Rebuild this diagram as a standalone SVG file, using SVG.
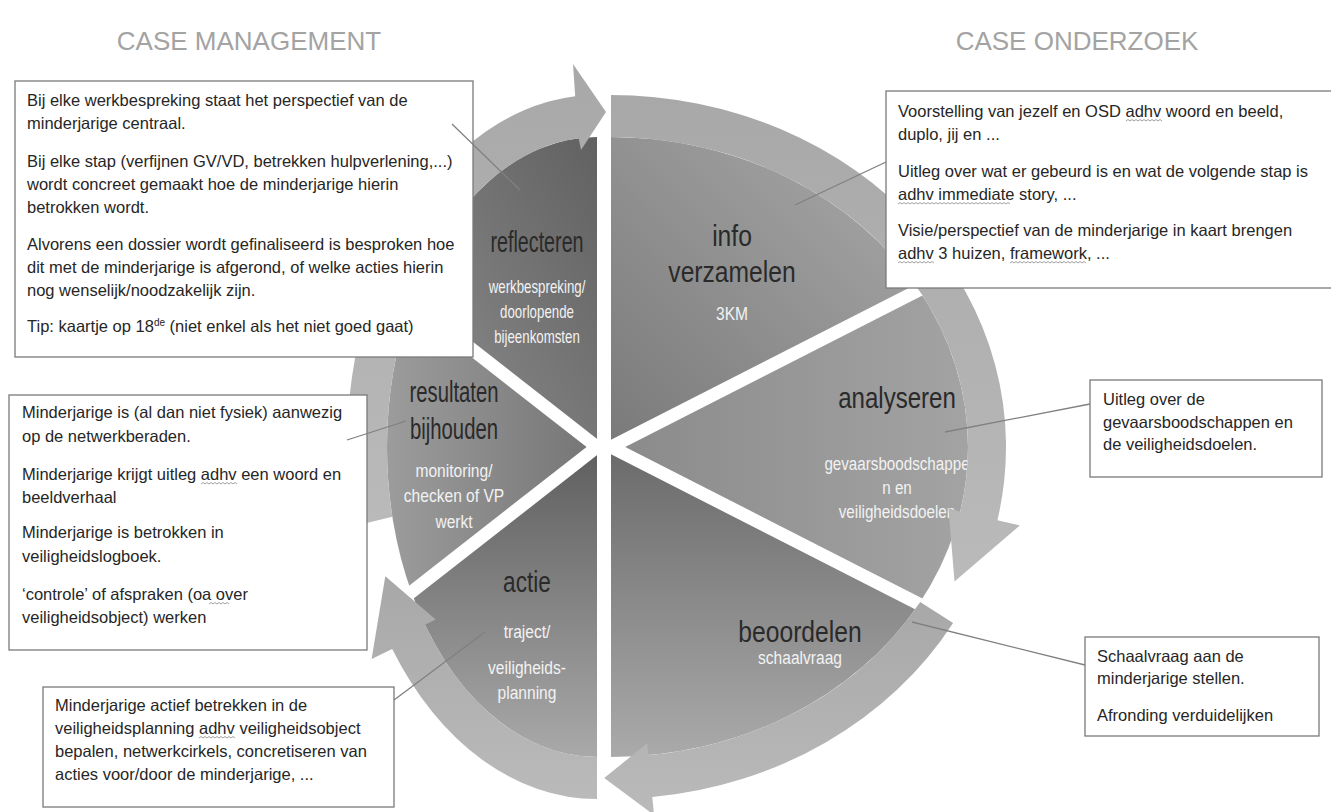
<svg xmlns="http://www.w3.org/2000/svg" width="1331" height="812" viewBox="0 0 1331 812">
<defs>
<linearGradient id="gRefl" x1="1" y1="0" x2="0" y2="1"><stop offset="0" stop-color="#616161"/><stop offset="1" stop-color="#8e8e8e"/></linearGradient>
<linearGradient id="gRes" x1="1" y1="0.5" x2="0" y2="0.5"><stop offset="0" stop-color="#757575"/><stop offset="1" stop-color="#9c9c9c"/></linearGradient>
<linearGradient id="gAct" x1="0" y1="0" x2="0" y2="1"><stop offset="0" stop-color="#5e5e5e"/><stop offset="1" stop-color="#a9a9a9"/></linearGradient>
<linearGradient id="gInfo" x1="1" y1="0" x2="0" y2="1"><stop offset="0" stop-color="#a9a9a9"/><stop offset="1" stop-color="#7a7a7a"/></linearGradient>
<linearGradient id="gAna" x1="0" y1="0" x2="1" y2="0"><stop offset="0" stop-color="#8a8a8a"/><stop offset="1" stop-color="#a3a3a3"/></linearGradient>
<linearGradient id="gBeo" x1="0" y1="0" x2="0" y2="1"><stop offset="0" stop-color="#6a6a6a"/><stop offset="1" stop-color="#aaaaaa"/></linearGradient>
<linearGradient id="gRing" x1="0" y1="0" x2="0" y2="1"><stop offset="0" stop-color="#a8a8a8"/><stop offset="1" stop-color="#bababa"/></linearGradient>
</defs>
<style>
.title{font-family:"Liberation Sans",Arial,sans-serif;font-size:26px;fill:#a3a3a3;text-anchor:middle}
.lbl{font-family:"Liberation Sans",Arial,sans-serif;font-size:29px;fill:#2a2a2a;text-anchor:middle}
.sub{font-family:"Liberation Sans",Arial,sans-serif;font-size:19px;fill:#f2f2f2;text-anchor:middle}
.box{fill:#fff;stroke:#7a7a7a;stroke-width:1.3}
.note{font-family:"Liberation Sans",Arial,sans-serif;font-size:16.5px;fill:#262626}
.gap{stroke:#fff;stroke-width:13;fill:none}
.ring{fill:url(#gRing)}
.conn{stroke:#808080;stroke-width:1.3;fill:none}
.sq{stroke:#959595;stroke-width:0.9;fill:none}
</style>
<rect width="1331" height="812" fill="#fff"/>
<g id="titles">
<text class="title" x="249" y="50">CASE MANAGEMENT</text>
<text class="title" x="1077" y="50">CASE ONDERZOEK</text>
</g>
<g id="node-reflecteren">
<path d="M597,447 L597,137 A210,310 0 0 0 411.4,301.9 Z" fill="url(#gRefl)"/>
<text class="lbl" transform="translate(537,252) scale(0.68,1)">reflecteren</text>
<text class="sub" transform="translate(537,293) scale(0.7,1)">werkbespreking/</text>
<text class="sub" transform="translate(537,318) scale(0.7,1)">doorlopende</text>
<text class="sub" transform="translate(537,343) scale(0.7,1)">bijeenkomsten</text>
</g>
<g id="node-resultaten">
<path d="M597,447 L411.4,301.9 A210,310 0 0 0 411.4,592.1 Z" fill="url(#gRes)"/>
<text class="lbl" transform="translate(454,402) scale(0.7,1)">resultaten</text>
<text class="lbl" transform="translate(454,439) scale(0.7,1)">bijhouden</text>
<text class="sub" transform="translate(454,477) scale(0.82,1)">monitoring/</text>
<text class="sub" transform="translate(454,502) scale(0.82,1)">checken of VP</text>
<text class="sub" transform="translate(454,528) scale(0.82,1)">werkt</text>
</g>
<g id="node-actie">
<path d="M597,447 L411.4,592.1 A210,310 0 0 0 597,757 Z" fill="url(#gAct)"/>
<text class="lbl" transform="translate(527,592) scale(0.78,1)">actie</text>
<text class="sub" transform="translate(527,638) scale(0.82,1)">traject/</text>
<text class="sub" transform="translate(527,674) scale(0.82,1)">veiligheids-</text>
<text class="sub" transform="translate(527,699) scale(0.82,1)">planning</text>
</g>
<g id="node-info">
<path d="M611,447 L611,137 A357,310 0 0 1 918.9,290.1 Z" fill="url(#gInfo)"/>
<text class="lbl" transform="translate(732,246) scale(0.85,1)">info</text>
<text class="lbl" transform="translate(732,282) scale(0.85,1)">verzamelen</text>
<text class="sub" transform="translate(732,320) scale(0.82,1)">3KM</text>
</g>
<g id="node-analyseren">
<path d="M611,447 L918.9,290.1 A357,310 0 0 1 918.9,603.9 Z" fill="url(#gAna)"/>
<text class="lbl" transform="translate(897,408) scale(0.83,1)">analyseren</text>
<text class="sub" transform="translate(897,470) scale(0.8,1)">gevaarsboodschappe</text>
<text class="sub" transform="translate(897,494) scale(0.8,1)">n en</text>
<text class="sub" transform="translate(897,518) scale(0.8,1)">veiligheidsdoelen</text>
</g>
<g id="node-beoordelen">
<path d="M611,447 L918.9,603.9 A357,310 0 0 1 611,757 Z" fill="url(#gBeo)"/>
<text class="lbl" transform="translate(800,642) scale(0.85,1)">beoordelen</text>
<text class="sub" transform="translate(800,664) scale(0.82,1)">schaalvraag</text>
</g>
<g id="gaps">
<line class="gap" x1="597" y1="447" x2="396.8" y2="290.5"/>
<line class="gap" x1="597" y1="447" x2="396.8" y2="603.5"/>
<line class="gap" x1="611" y1="447" x2="936.2" y2="281.3"/>
<line class="gap" x1="611" y1="447" x2="936.2" y2="612.7"/>
</g>
<g id="cycle-arrows">
<path class="ring" d="M353.4,526.2 A250,352 0 0 1 575.2,96.3 L573,64 L606,112 L581,150 L578.7,138.2 A210,310 0 0 0 392.4,516.8 Z"/>
<path class="ring" d="M611,95 A395,352 0 0 1 997.4,520.2 L1019.8,525.5 L954.5,581.6 L948.5,508.6 L960.2,511.4 A357,310 0 0 0 611,137 Z"/>
<path class="ring" d="M953.1,623 A395,352 0 0 1 652.3,797.1 L654,815 L604.2,778 L647.2,743.3 L648.3,755.3 A357,310 0 0 0 920.2,602 Z"/>
<path class="ring" d="M597,799 A250,352 0 0 1 392.2,648.9 L371.6,659.1 L385.3,576.3 L435.7,619.5 L425,624.8 A210,310 0 0 0 597,757 Z"/>
</g>
<g id="note-reflecteren">
<rect class="box" x="15" y="81" width="458" height="276"/>
<text class="note" x="27" y="106">Bij elke werkbespreking staat het perspectief van de</text>
<text class="note" x="27" y="129">minderjarige centraal.</text>
<text class="note" x="27" y="167">Bij elke stap (verfijnen GV/VD, betrekken hulpverlening,...)</text>
<text class="note" x="27" y="190">wordt concreet gemaakt hoe de minderjarige hierin</text>
<text class="note" x="27" y="213">betrokken wordt.</text>
<text class="note" x="27" y="250">Alvorens een dossier wordt gefinaliseerd is besproken hoe</text>
<text class="note" x="27" y="273">dit met de minderjarige is afgerond, of welke acties hierin</text>
<text class="note" x="27" y="296">nog wenselijk/noodzakelijk zijn.</text>
<text class="note" x="27" y="332">Tip: kaartje op 18<tspan font-size="10" dy="-6">de</tspan><tspan dy="6"> (niet enkel als het niet goed gaat)</tspan></text>
</g>
<g id="note-info">
<rect class="box" x="886" y="91" width="460" height="197"/>
<text class="note" x="898" y="117">Voorstelling van jezelf en OSD adhv woord en beeld,</text>
<text class="note" x="898" y="140">duplo, jij en ...</text>
<text class="note" x="898" y="177">Uitleg over wat er gebeurd is en wat de volgende stap is</text>
<text class="note" x="898" y="200">adhv immediate story, ...</text>
<text class="note" x="898" y="236">Visie/perspectief van de minderjarige in kaart brengen</text>
<text class="note" x="898" y="259">adhv 3 huizen, framework, ...</text>
<path class="sq" d="M1126,121 l2,-1.5 2,1.5 2,-1.5 2,1.5 2,-1.5 2,1.5 2,-1.5 2,1.5 2,-1.5 2,1.5 2,-1.5 2,1.5 2,-1.5 2,1.5 2,-1.5 2,1.5 2,-1.5 2,1.5"/>
<path class="sq" d="M898,204 l2,-1.5 2,1.5 2,-1.5 2,1.5 2,-1.5 2,1.5 2,-1.5 2,1.5 2,-1.5 2,1.5 2,-1.5 2,1.5 2,-1.5 2,1.5 2,-1.5 2,1.5 2,-1.5 2,1.5 2,-1.5 2,1.5 2,-1.5 2,1.5 2,-1.5 2,1.5 2,-1.5 2,1.5 2,-1.5 2,1.5 2,-1.5 2,1.5 2,-1.5 2,1.5 2,-1.5 2,1.5 2,-1.5 2,1.5 2,-1.5 2,1.5 2,-1.5 2,1.5 2,-1.5 2,1.5 2,-1.5 2,1.5 2,-1.5 2,1.5 2,-1.5 2,1.5 2,-1.5 2,1.5 2,-1.5 2,1.5 2,-1.5 2,1.5 2,-1.5 2,1.5"/>
<path class="sq" d="M898,263 l2,-1.5 2,1.5 2,-1.5 2,1.5 2,-1.5 2,1.5 2,-1.5 2,1.5 2,-1.5 2,1.5 2,-1.5 2,1.5 2,-1.5 2,1.5 2,-1.5 2,1.5 2,-1.5 2,1.5"/>
<path class="sq" d="M1010,263 l2,-1.5 2,1.5 2,-1.5 2,1.5 2,-1.5 2,1.5 2,-1.5 2,1.5 2,-1.5 2,1.5 2,-1.5 2,1.5 2,-1.5 2,1.5 2,-1.5 2,1.5 2,-1.5 2,1.5 2,-1.5 2,1.5 2,-1.5 2,1.5 2,-1.5 2,1.5 2,-1.5 2,1.5 2,-1.5 2,1.5 2,-1.5 2,1.5 2,-1.5 2,1.5 2,-1.5 2,1.5 2,-1.5 2,1.5 2,-1.5 2,1.5"/>
</g>
<g id="note-resultaten">
<rect class="box" x="9" y="395" width="358" height="255"/>
<text class="note" x="22" y="418">Minderjarige is (al dan niet fysiek) aanwezig</text>
<text class="note" x="22" y="442">op de netwerkberaden.</text>
<text class="note" x="22" y="480">Minderjarige krijgt uitleg adhv een woord en</text>
<text class="note" x="22" y="503">beeldverhaal</text>
<text class="note" x="22" y="538">Minderjarige is betrokken in</text>
<text class="note" x="22" y="562">veiligheidslogboek.</text>
<text class="note" x="22" y="600">‘controle’ of afspraken (oa over</text>
<text class="note" x="22" y="623">veiligheidsobject) werken</text>
<path class="sq" d="M201,484 l2,-1.5 2,1.5 2,-1.5 2,1.5 2,-1.5 2,1.5 2,-1.5 2,1.5 2,-1.5 2,1.5 2,-1.5 2,1.5 2,-1.5 2,1.5 2,-1.5 2,1.5 2,-1.5 2,1.5"/>
<path class="sq" d="M209,604 l2,-1.5 2,1.5 2,-1.5 2,1.5 2,-1.5 2,1.5 2,-1.5 2,1.5 2,-1.5 2,1.5"/>
</g>
<g id="note-actie">
<rect class="box" x="43" y="687" width="351" height="120"/>
<text class="note" x="55" y="711">Minderjarige actief betrekken in de</text>
<text class="note" x="55" y="734">veiligheidsplanning adhv veiligheidsobject</text>
<text class="note" x="55" y="757">bepalen, netwerkcirkels,  concretiseren van</text>
<text class="note" x="55" y="780">acties voor/door de minderjarige, ...</text>
<path class="sq" d="M199,738 l2,-1.5 2,1.5 2,-1.5 2,1.5 2,-1.5 2,1.5 2,-1.5 2,1.5 2,-1.5 2,1.5 2,-1.5 2,1.5 2,-1.5 2,1.5 2,-1.5 2,1.5 2,-1.5 2,1.5"/>
</g>
<g id="note-analyseren">
<rect class="box" x="1090" y="380" width="232" height="97"/>
<text class="note" x="1103" y="405">Uitleg over de</text>
<text class="note" x="1103" y="428">gevaarsboodschappen en</text>
<text class="note" x="1103" y="450">de veiligheidsdoelen.</text>
</g>
<g id="note-beoordelen">
<rect class="box" x="1085" y="637" width="234" height="99"/>
<text class="note" x="1097" y="662">Schaalvraag aan de</text>
<text class="note" x="1097" y="684">minderjarige stellen.</text>
<text class="note" x="1097" y="721">Afronding verduidelijken</text>
</g>
<g id="connectors">
<line class="conn" x1="452" y1="124" x2="520" y2="190"/>
<line class="conn" x1="886" y1="162" x2="795" y2="205"/>
<line class="conn" x1="347" y1="440" x2="406" y2="421"/>
<line class="conn" x1="1090" y1="404" x2="945" y2="432"/>
<line class="conn" x1="912" y1="622" x2="1085" y2="665"/>
<line class="conn" x1="394" y1="700" x2="485" y2="632"/>
</g>
</svg>
